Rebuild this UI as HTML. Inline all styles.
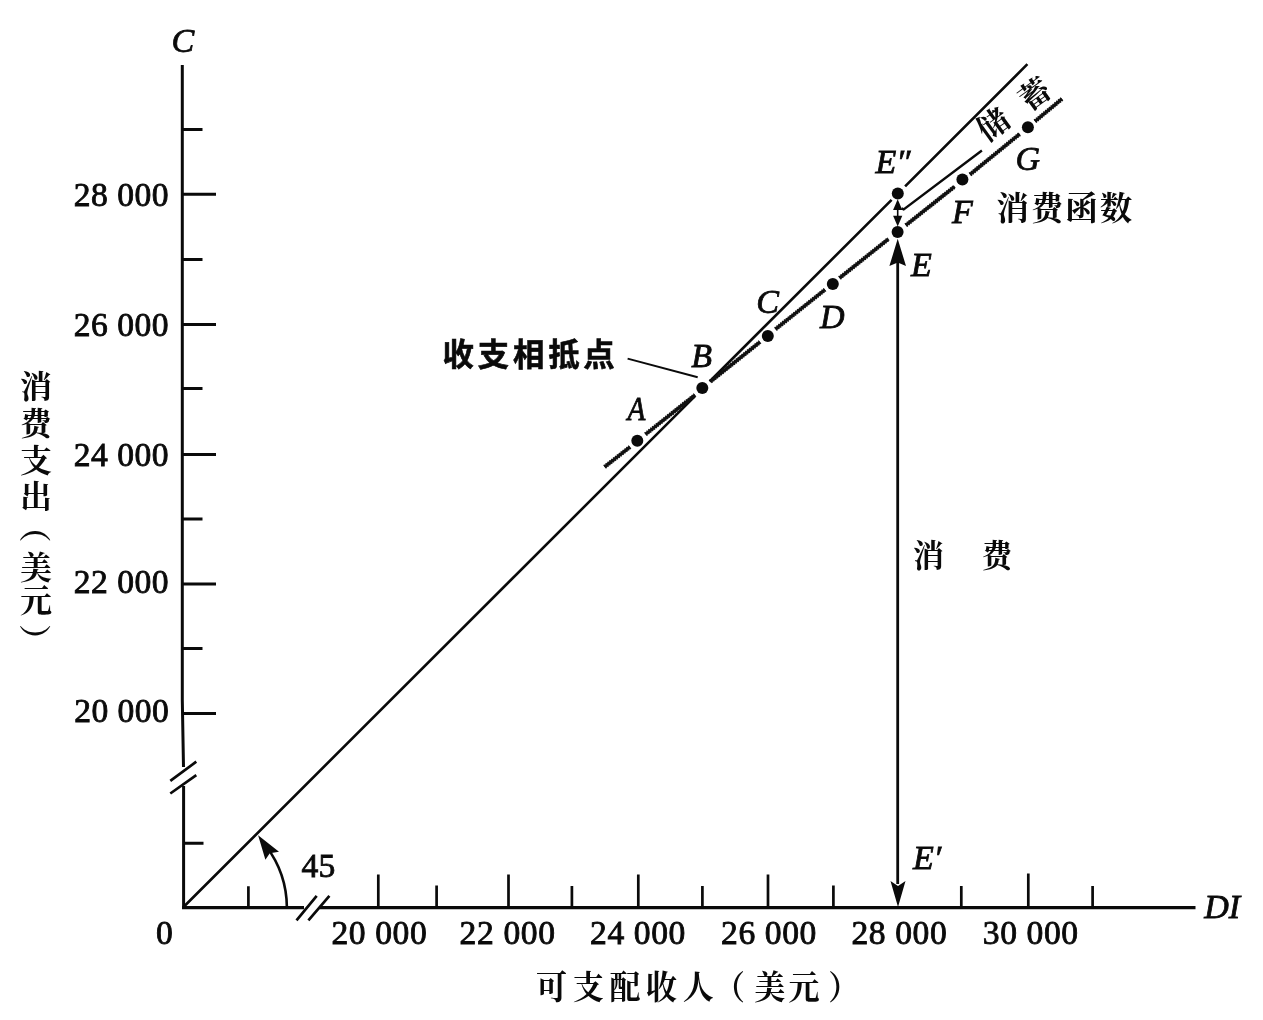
<!DOCTYPE html>
<html lang="zh-CN">
<head>
<meta charset="utf-8">
<title>消费函数</title>
<style>
html,body{margin:0;padding:0;background:#fff;}
body{width:1263px;height:1020px;position:relative;overflow:hidden;}
svg{position:absolute;left:0;top:0;display:block;}
.num{font-family:"Liberation Serif","Noto Serif CJK SC",serif;font-size:33.6px;fill:#0a0a0a;stroke:#0a0a0a;stroke-width:0.85px;letter-spacing:0.45px;}
.it{font-family:"Liberation Serif","Noto Serif CJK SC",serif;font-style:italic;font-size:34px;fill:#0a0a0a;stroke:#0a0a0a;stroke-width:0.8px;}
.cn{font-family:"Liberation Serif","Noto Serif CJK SC",serif;font-size:31px;font-weight:700;fill:#0a0a0a;}
.hei{font-family:"Liberation Sans","Noto Sans CJK SC",sans-serif;font-weight:bold;font-size:31.4px;fill:#0a0a0a;stroke:#0a0a0a;stroke-width:0.6px;}
</style>
</head>
<body>
<svg width="1263" height="1020" viewBox="0 0 1263 1020">
<rect width="1263" height="1020" fill="#fff"/>
<g id="axes" stroke="#0a0a0a" stroke-width="3" fill="none" stroke-linecap="butt">
  <path d="M182.3 65 L182.3 700 L183.5 767 M183.6 786 L183.6 909"/>
  <path d="M182 907.6 L304 907.6 M319.5 907.6 L1195.5 907.6" stroke-width="3.4"/>
  <!-- y ticks -->
  <path d="M183 129.5H202.5 M183 194.3H216 M183 259.5H202.5 M183 324.5H216 M183 388.5H202.5 M183 454.5H216 M183 519H202.5 M183 584H216 M183 648.5H202.5 M183 713.5H216 M183 843.3H203.5"/>
  <!-- x ticks -->
  <path stroke-width="2.7" d="M248.4 907V886.2 M378.3 907V874.5 M436.6 907V885.5 M508.5 907V874.5 M571.9 907V886 M638.3 907V874.5 M702.4 907V886 M768 907V874.5 M833.4 907V885.5 M961.3 907V886 M1028.3 907V873.5 M1092.6 907V886"/>
</g>
<g id="breaks" stroke="#0a0a0a" stroke-width="2.7" fill="none">
  <path d="M170.3 780.8L196.3 761.7 M170.3 793.5L196.3 775.2"/>
  <path d="M296.5 920.3L316.7 895.8 M308.4 920.3L329.4 895.8"/>
</g>
<g id="lines" stroke="#0a0a0a" fill="none">
  <path d="M183 907.5L695 396.1 M709.6 381.5L891.6 199.8 M905.1 186.3L1027.4 64.2" stroke-width="2.6"/>
  <path d="M286.9 907.5A103.3 103.3 0 0 0 266 846" stroke-width="2.6"/>
  <path d="M627.6 358.6L697.7 377.2" stroke-width="2"/>
  <path d="M901.5 208.4L903.7 209.4L981.9 150.5" stroke-width="2.4"/>
  <path d="M897.7 262L897.7 884" stroke-width="2.8"/>
  <path d="M897.7 203L897.7 222" stroke-width="1.6"/>
</g>
<defs><path id="cfp" d="M604.6 466.9L630 447 M645.5 434.3L695 395 M710.5 381.5L760 342 M775.5 329.2L825 289.7 M839.5 278L888.5 239 M905.8 225.3L954.7 186.5 M970 174.5L1019.7 134 M1035 121.3L1062 98.9"/></defs>
<g id="cf" fill="none" stroke="#111">
  <use href="#cfp" stroke-width="3"/>
  <use href="#cfp" stroke-width="4.4" stroke-dasharray="1.4 1"/>
</g>
<g id="dots" fill="#0a0a0a">
  <circle cx="637.3" cy="440.7" r="6"/>
  <circle cx="702.3" cy="387.9" r="6"/>
  <circle cx="767.8" cy="335.9" r="6"/>
  <circle cx="832.8" cy="283.9" r="6"/>
  <circle cx="897.6" cy="232" r="6"/>
  <circle cx="897.8" cy="193.5" r="6"/>
  <circle cx="962.4" cy="179.5" r="6"/>
  <circle cx="1027.9" cy="127.2" r="6"/>
</g>
<g id="arrows" fill="#0a0a0a">
  <path d="M897.7 238.8L906 266L897.7 262.5L889.4 266Z"/>
  <path d="M898 907L905.5 881L898 886L890.5 881Z"/>
  <path d="M258.1 835.3L279 851.8L269.8 853.3L265.4 859.7Z"/>
  <path d="M897.7 199.3L902.3 210L893.1 210Z"/>
  <path d="M897.7 226.6L902.3 215.8L893.1 215.8Z"/>
</g>
<g id="ylabels" class="num" text-anchor="end">
  <text x="168.9" y="206">28 000</text>
  <text x="168.9" y="336.4">26 000</text>
  <text x="168.9" y="465.6">24 000</text>
  <text x="168.9" y="592.6">22 000</text>
  <text x="169.3" y="721.6">20 000</text>
</g>
<g id="xlabels" class="num" text-anchor="middle" style="letter-spacing:0.6px">
  <text x="164.6" y="943.7">0</text>
  <text x="379.4" y="943.5">20 000</text>
  <text x="507.6" y="943.5">22 000</text>
  <text x="638" y="943.5">24 000</text>
  <text x="769" y="943.5">26 000</text>
  <text x="899.4" y="943.5">28 000</text>
  <text x="1030.8" y="943.5">30 000</text>
  <text x="318.5" y="876.8" style="letter-spacing:0.3px">45</text>
</g>
<g id="letters" class="it">
  <text x="171.4" y="52.2">C</text>
  <text x="1204.3" y="917.8">DI</text>
  <text x="913" y="869.2">E′</text>
  <text x="911" y="276">E</text>
  <text x="875.5" y="172.8">E″</text>
  <text x="952" y="222.8">F</text>
  <text x="1015.6" y="170.3">G</text>
  <text x="820" y="328">D</text>
  <text x="756.2" y="313">C</text>
  <text x="691.2" y="366.6">B</text>
  <text transform="translate(627.6,419.8) scale(0.86,1)">A</text>
</g>
<g id="cn" class="cn">
  <text transform="translate(0,999.4) scale(1,1.07)" x="536 572.7 609.4 646.1 682.8 714.1 754.2 788.4 828.3" y="0">可支配收人（美元）</text>
  <text x="996.4" y="220.4" style="font-size:32.4px" letter-spacing="2.1">消费函数</text>
  <text transform="translate(0,566.8) scale(1,1.04)" x="913 981.4" y="0">消费</text>
  <text transform="translate(987.2,142.6) rotate(-36)" letter-spacing="20.5">储蓄</text>
</g>
<text class="cn" style="font-size:32px;font-weight:700" x="20 20 20 20 23.4 20 20 23.4" y="398 434.7 471.5 508.3 510.5 578.8 611.5 624" rotate="0 0 0 0 90 0 0 90">消费支出（美元）</text>
<text class="hei" x="442.6" y="365.8" letter-spacing="3.8">收支相抵点</text>
</svg>
</body>
</html>
